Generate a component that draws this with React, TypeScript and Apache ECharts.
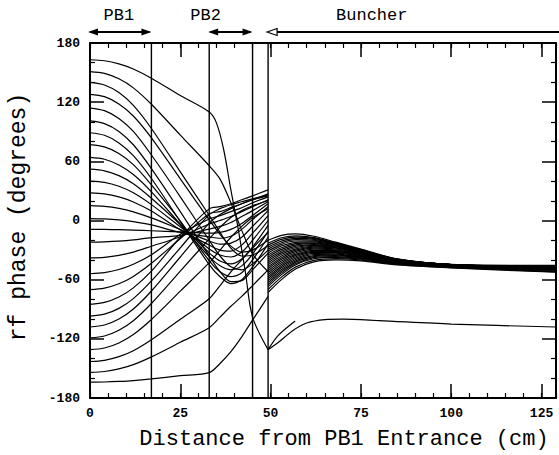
import React, { useEffect, useRef } from "react";
import * as echarts from "echarts";

const FONT = '"Liberation Mono", "DejaVu Sans Mono", monospace';

// x positions (cm) of the sampled points
const leftX = [0, 4, 8, 12, 17, 25, 33, 36, 39, 42, 45, 49.3];
const rightX = [49.3, 53, 57, 62, 68, 75, 85, 100, 129];

// the top particle (163 deg) — its own sampling
const topX = [0, 4, 8, 12, 17, 25, 33, 35, 37, 39, 41, 43, 45, 49.3];
const topY = [163, 162, 158.9, 153.7, 144.3, 126.7, 110, 99, 72, 31, -8, -52, -98, -131];
const outlierX = [49.3, 52, 56, 60, 65, 70, 80, 100, 129];
const outlierY = [-131, -124, -112, -104, -100.5, -100, -101.5, -105, -108];
const stubX = [49.3, 52, 56.8];
const stubY = [-131, -117, -102];

// phase (deg) before the buncher, one row per particle, at leftX
const leftPhases: number[][] = [
  [151, 149.2, 143.7, 134.5, 117.9, 86.6, 55.5, 42, 18, -10, -34, -52],
  [140, 137.4, 129.7, 116.7, 93.3, 49.3, 5.3, -12, -28, -36, -35, -25],
  [128, 125.6, 118.2, 106, 83.8, 42.2, 0.6, -14, -26, -32, -30, -20],
  [114, 111.4, 103.5, 90.3, 66.4, 24, -20, -36, -47, -50, -44, -30],
  [101, 98.3, 90.3, 76.8, 52.6, 9, -36, -52, -62, -61, -50, -33],
  [89, 86.4, 78.7, 65.8, 42.6, -1.1, -44.8, -57, -64, -60, -47, -24],
  [77, 74.7, 68, 56.6, 36.1, -0.5, -40.9, -52, -57, -53, -40, -17],
  [64, 62.1, 56.3, 46.6, 29.1, -3.8, -36.7, -46, -50, -46, -34, -11],
  [52, 50.4, 45.5, 37.3, 22.6, -4, -32.8, -41, -44, -39, -27, -5],
  [40, 38.7, 34.7, 28.1, 16.1, -6.4, -28.8, -35, -37, -32, -20, 0],
  [28, 27, 23.9, 18.8, 9.6, -9.5, -24.9, -30, -31, -25, -13, 5],
  [15, 14.3, 12.3, 8.8, 2.6, -9.1, -20.8, -24, -23, -17, -6, 10],
  [2, 1.6, 0.6, -1.2, -4.5, -12, -16.6, -18, -16, -9, 1, 14],
  [-9, -9.1, -9.3, -9.7, -10.4, -11.6, -12.9, -12, -9, -3, 5, 17],
  [-22, -21.7, -21, -19.7, -17.4, -15, -8.8, -6, -2, 4, 10, 19],
  [-38, -37.3, -35.4, -32, -26.1, -16.5, -3.6, 0, 4, 9, 14, 21],
  [-54, -52.9, -49.7, -44.4, -34.7, -14, 1.6, 5, 9, 13, 18, 24],
  [-70, -68.5, -64.1, -56.7, -43.4, -18.3, 6.8, 9, 13, 17, 21, 27],
  [-85, -83.1, -77.6, -68.3, -51.4, -17, 11.8, 14, 17, 21, 25, 31],
  [-97, -95, -89.1, -79.2, -61.3, -27.7, 5.9, 12, 16, 19, 22, 26],
  [-108, -106, -99.9, -89.8, -71.5, -37, -2.7, 6, 12, 17, 21, 25],
  [-119, -117.1, -111.3, -101.6, -84.2, -51.4, -18.6, -7, 3, 10, 15, 20],
  [-131, -129.3, -124.2, -115.7, -100.4, -71.6, -42.8, -30, -17, -6, 3, 12],
  [-143, -141.8, -138.1, -132, -120.9, -100.1, -79.3, -66, -52, -40, -28, -12],
  [-154, -153.1, -150.5, -146.2, -138.3, -123.5, -108.7, -98, -87, -77, -66, -50],
  [-164, -163.8, -163.2, -162.3, -160.6, -157.4, -154.2, -145, -133, -118, -101, -77],
];

// phase (deg) after the buncher, same particles, at rightX
const rightPhases: number[][] = [
  [-70, -57.4, -47, -40.4, -38.7, -40.1, -44.5, -47.7, -52],
  [-61, -49.7, -40.8, -35.6, -34.9, -37.6, -42.9, -46.7, -50.1],
  [-57, -46.3, -38.2, -33.4, -33.1, -36.4, -42.1, -46.3, -49.9],
  [-63, -51.4, -42.2, -36.6, -35.7, -38.1, -43.2, -46.9, -50.3],
  [-65, -53.1, -43.6, -37.7, -36.6, -38.7, -43.6, -47.1, -50.4],
  [-59, -48, -39.5, -34.5, -34, -37, -42.5, -46.5, -50],
  [-55, -44.6, -36.8, -32.4, -32.3, -35.9, -41.8, -46.1, -49.7],
  [-51, -41.1, -34.1, -30.2, -30.6, -34.7, -41.1, -45.6, -49.4],
  [-49, -39.4, -32.7, -29.1, -29.7, -34.1, -40.7, -45.4, -49.3],
  [-47, -37.7, -31.3, -28.1, -28.9, -33.6, -40.4, -45.2, -49.1],
  [-45, -36, -30, -27, -28, -33, -40, -45, -49],
  [-43, -34.3, -28.7, -26.1, -27.5, -32.7, -39.9, -45, -48.8],
  [-39, -31, -26, -24.4, -26.6, -32, -39.8, -44.9, -48.5],
  [-37, -29.3, -24.7, -23.5, -26.1, -31.7, -39.7, -44.8, -48.4],
  [-35, -27.6, -23.4, -22.6, -25.6, -31.4, -39.6, -44.8, -48.2],
  [-31, -24.2, -20.8, -20.8, -24.6, -30.8, -39.4, -44.7, -47.9],
  [-29, -22.6, -19.4, -20, -24.2, -30.4, -39.4, -44.7, -47.7],
  [-23, -17.5, -15.5, -17.3, -22.7, -29.5, -39.1, -44.6, -46],
  [-20, -15, -13.5, -16, -22, -29, -39, -44.5, -45.5],
  [-25, -19.2, -16.8, -18.2, -23.2, -29.8, -39.2, -44.6, -46.5],
  [-27, -20.9, -18.1, -19.1, -23.7, -30.1, -39.3, -44.6, -47.6],
  [-33, -25.9, -22.1, -21.7, -25.1, -31.1, -39.5, -44.8, -48],
  [-41, -32.6, -27.4, -25.2, -27, -32.4, -39.8, -44.9, -48.7],
  [-53, -42.9, -35.4, -31.3, -31.4, -35.3, -41.4, -45.9, -49.6],
  [-67, -54.9, -44.9, -38.8, -37.4, -39.3, -43.9, -47.4, -51.5],
  [-73, -60, -49, -42, -40, -41, -45, -48, -52.5],
];

// vertical markers (cavity boundaries, cm)
const markerX = [17, 33, 45, 49.3];

// region annotations: label, from, to, label anchor (cm)
const regionLabels = ["PB1", "PB2", "Buncher"];
const regionFrom = [0, 33, 49.3];
const regionTo = [17, 45, 129];
const regionAnchor = [8, 32, 78];

const xMin = 0;
const xMax = 129;
const yMin = -180;
const yMax = 180;

const LINE = { color: "#000", width: 1.2 };

function lineSeries(xs: number[], ys: number[]) {
  return {
    type: "line",
    data: xs.map((x, i) => [x, ys[i]]),
    smooth: 0.3,
    symbol: "none",
    silent: true,
    lineStyle: LINE,
    xAxisIndex: 0,
    yAxisIndex: 0,
  };
}

function buildOption() {
  const series: any[] = [];
  leftPhases.forEach((row) => series.push(lineSeries(leftX, row)));
  rightPhases.forEach((row) => series.push(lineSeries(rightX, row)));
  series.push(lineSeries(topX, topY));
  series.push(lineSeries(outlierX, outlierY));
  series.push(lineSeries(stubX, stubY));
  markerX.forEach((m) =>
    series.push({
      type: "line",
      data: [
        [m, yMin],
        [m, yMax],
      ],
      symbol: "none",
      silent: true,
      lineStyle: { color: "#000", width: 1.4 },
    })
  );

  const frame = { show: true, onZero: false, lineStyle: { color: "#000", width: 2 } };
  const majorTick = { show: true, inside: true, length: 14, lineStyle: { color: "#000", width: 1.5 } };
  const minorTickX = { show: true, inside: true, length: 5, lineStyle: { color: "#000", width: 1.2 } };
  const label = {
    color: "#000",
    fontFamily: FONT,
    fontSize: 13,
    fontWeight: "bold",
  };

  const xBase = { type: "value", min: xMin, max: xMax, splitLine: { show: false } };
  const yBase = { type: "value", min: yMin, max: yMax, interval: 60, splitLine: { show: false } };

  return {
    animation: false,
    backgroundColor: "#fff",
    grid: { left: 90, right: 2, top: 43, bottom: 57, containLabel: false },
    xAxis: [
      {
        ...xBase,
        position: "bottom",
        interval: 25,
        axisLine: frame,
        axisTick: majorTick,
        axisLabel: {
          ...label,
          margin: 9,
          formatter: (v: number) => (v % 25 === 0 ? String(v) : ""),
        },
      },
      {
        ...xBase,
        position: "bottom",
        interval: 5,
        axisLine: { show: false, onZero: false },
        axisTick: minorTickX,
        axisLabel: { show: false },
      },
      {
        ...xBase,
        position: "top",
        interval: 25,
        axisLine: frame,
        axisTick: majorTick,
        axisLabel: { show: false },
      },
      {
        ...xBase,
        position: "top",
        interval: 5,
        axisLine: { show: false, onZero: false },
        axisTick: minorTickX,
        axisLabel: { show: false },
      },
    ],
    yAxis: [
      {
        ...yBase,
        position: "left",
        axisLine: frame,
        axisTick: majorTick,
        minorTick: { show: true, splitNumber: 3, length: 5, lineStyle: { color: "#000", width: 1.2 } },
        axisLabel: { ...label, margin: 10 },
      },
      {
        ...yBase,
        position: "right",
        axisLine: frame,
        axisTick: majorTick,
        minorTick: { show: true, splitNumber: 3, length: 5, lineStyle: { color: "#000", width: 1.2 } },
        axisLabel: { show: false },
      },
    ],
    series,
  };
}

function buildGraphic(chart: any) {
  const px = (v: number) => chart.convertToPixel({ xAxisIndex: 0 }, v) as number;
  const W = chart.getWidth();
  const arrowY = 32;
  const textY = 15;
  const els: any[] = [];
  const head = (x: number, dir: number, hollow: boolean) => ({
    type: "polygon",
    shape: {
      points: [
        [x, arrowY],
        [x + dir * 10, arrowY - 3.5],
        [x + dir * 10, arrowY + 3.5],
      ],
    },
    style: hollow ? { fill: "#fff", stroke: "#000", lineWidth: 1.2 } : { fill: "#000" },
    z: 10,
  });
  regionLabels.forEach((name, i) => {
    const x0 = px(regionFrom[i]) - (i === 0 ? 2 : 1);
    const x1 = Math.min(px(regionTo[i]), W);
    const isOpen = i === 2;
    els.push({
      type: "line",
      shape: { x1: x0 + (isOpen ? 8 : 2), y1: arrowY, x2: isOpen ? W : x1 - 2, y2: arrowY },
      style: { stroke: "#000", lineWidth: 2 },
      z: 9,
    });
    els.push(head(x0, 1, isOpen));
    if (!isOpen) els.push(head(x1, -1, false));
    els.push({
      type: "text",
      x: px(regionAnchor[i]),
      y: textY,
      style: {
        text: name,
        fill: "#000",
        fontFamily: FONT,
        fontSize: 17,
        textAlign: "center",
        textVerticalAlign: "middle",
      },
    });
  });
  els.push({
    type: "text",
    x: 344,
    y: 439,
    style: {
      text: "Distance from PB1 Entrance (cm)",
      fill: "#000",
      fontFamily: FONT,
      fontSize: 22,
      textAlign: "center",
      textVerticalAlign: "middle",
    },
  });
  els.push({
    type: "text",
    x: 19,
    y: 217,
    rotation: Math.PI / 2,
    style: {
      text: "rf phase (degrees)",
      fill: "#000",
      fontFamily: FONT,
      fontSize: 23,
      textAlign: "center",
      textVerticalAlign: "middle",
    },
  });
  return els;
}

export default function App() {
  const ref = useRef<HTMLDivElement>(null);
  useEffect(() => {
    if (!ref.current) return;
    const chart = echarts.init(ref.current, null, { renderer: "svg" });
    chart.setOption(buildOption() as any);
    chart.setOption({ graphic: buildGraphic(chart) } as any);
    return () => chart.dispose();
  }, []);
  return (
    <div
      ref={ref}
      style={{ position: "fixed", left: 0, top: 0, width: 559, height: 455, background: "#fff" }}
    />
  );
}
